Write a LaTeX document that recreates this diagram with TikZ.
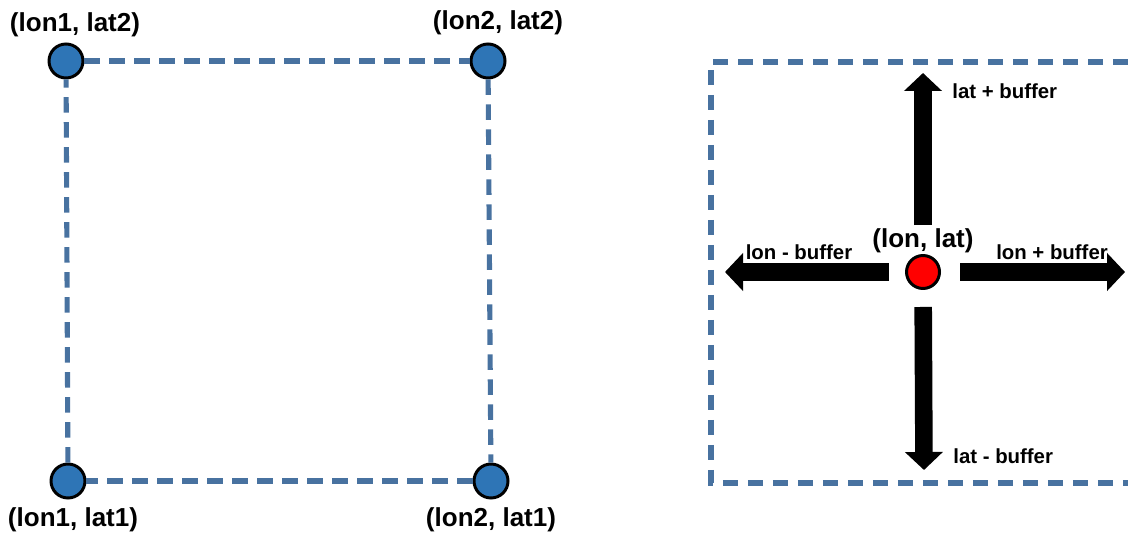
\documentclass[tikz,border=0pt]{standalone}
\usepackage{fontspec}
\setmainfont{Liberation Sans}
\usetikzlibrary{positioning,arrows.meta}
\definecolor{boxedge}{RGB}{72,114,160}
\definecolor{ptfill}{RGB}{46,117,182}
\definecolor{ctrfill}{RGB}{255,0,0}

\begin{document}
\begin{tikzpicture}[
  x=0.02cm, y=-0.02cm,
  every node/.style={font=\bfseries},
  %% Node styles
  ptnode/.style={
    circle, draw=black, fill=ptfill, line width=1.7pt,
    minimum size=0.68cm, inner sep=0pt,
  },
  ctrnode/.style={
    circle, draw=black, fill=ctrfill, line width=1.7pt,
    minimum size=0.66cm, inner sep=0pt,
  },
  %% Label styles
  bigtxt/.style={font=\bfseries\fontsize{14.8}{17}\selectfont, inner sep=0pt},
  smalltxt/.style={font=\bfseries\fontsize{11.6}{14}\selectfont, inner sep=0pt},
  %% Edge styles
  boxline/.style={draw=boxedge, line width=2.9pt, dash pattern=on 0.31cm off 0.19cm},
  blockarrow/.style={
    draw=black, line width=10pt,
    -{Triangle[width=0.74cm, length=0.36cm]},
  },
]
\useasboundingbox (0,0) rectangle (1128,533);

%% =============================================================
%%  LEFT PANEL  --  bounding box given by its four corners
%% =============================================================
\node[ptnode] (p12) at (66, 61)  {};
\node[ptnode] (p22) at (488, 61) {};
\node[ptnode] (p11) at (68, 481) {};
\node[ptnode] (p21) at (491, 481) {};

\draw[boxline] (p12) -- (p22);
\draw[boxline] (p22) -- (p21);
\draw[boxline] (p21) -- (p11);
\draw[boxline] (p11) -- (p12);

%% Corner labels
\node[bigtxt] (l12) at (75, 25)  {(lon1, lat2)};
\node[bigtxt] (l22) at (498, 23) {(lon2, lat2)};
\node[bigtxt] (l11) at (73, 520) {(lon1, lat1)};
\node[bigtxt] (l21) at (491, 520) {(lon2, lat1)};

%% =============================================================
%%  RIGHT PANEL  --  box grown from one point by a buffer
%% =============================================================
\coordinate (fr1) at (1128, 62);
\coordinate (fr2) at (711, 62);
\coordinate (fr3) at (711, 483);
\coordinate (fr4) at (1128, 483);
\draw[boxline] (fr1) -- (fr2) -- (fr3) -- (fr4);

\node[ctrnode] (ctr) at (923, 272) {};
\node[bigtxt] (ctrlbl) at (923, 241) {(lon, lat)};

%% Arrow tips
\coordinate (uptip)    at (923, 73);
\coordinate (downtip)  at (924, 470);
\coordinate (lefttip)  at (725, 272);
\coordinate (righttip) at (1125, 272);

\draw[blockarrow] ([yshift=2pt]ctrlbl.north) -- (uptip);
\draw[blockarrow, shorten <=0.34cm] (ctr) -- (downtip);
\draw[blockarrow, shorten <=0.32cm] (ctr) -- (lefttip);
\draw[blockarrow, shorten <=0.38cm] (ctr) -- (righttip);

%% Buffer labels
\node[smalltxt, anchor=west] (uplbl)    at (952, 91)  {lat + buffer};
\node[smalltxt, anchor=west] (downlbl)  at (953, 456) {lat - buffer};
\node[smalltxt] (leftlbl)  at (799, 252)  {lon - buffer};
\node[smalltxt] (rightlbl) at (1052, 252) {lon + buffer};

\end{tikzpicture}
\end{document}
